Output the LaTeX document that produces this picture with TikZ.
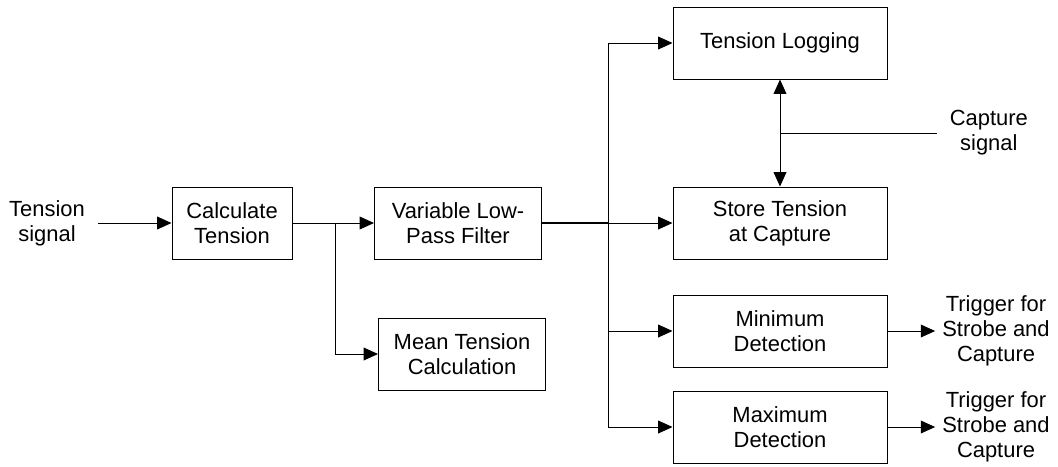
\documentclass[tikz,border=0pt]{standalone}
\usepackage{fontspec}
\setmainfont{Liberation Sans}
\usetikzlibrary{arrows.meta}

\begin{document}
\begin{tikzpicture}[->,>={Triangle[length=0.36cm,width=0.32cm]},line width=0.7pt,
  block/.style={draw,rectangle,align=center,minimum height=1.8cm,font=\fontsize{15.6}{17.8}\selectfont},
  wide block/.style={block,minimum width=5.35cm},
  label text/.style={align=center,font=\fontsize{15.6}{17.8}\selectfont}]

            \useasboundingbox (0,0) rectangle (26.45,-11.65);

            \node[block,minimum width=3cm] (calc) at (5.8,-5.575) {Calculate\\Tension};
            \node[block,minimum width=4.175cm] (filter) [right of = calc, node distance=5.65cm] {Variable Low-\\Pass Filter};
            \node[block,minimum width=4.175cm] (mean) [below of = filter, node distance=3.275cm, xshift=0.1cm] {Mean Tension\\Calculation};
            \node[wide block] (store) [right of = filter, node distance=8.05cm] {Store Tension\\at Capture};
            \node[wide block] (log) [above of = store, node distance=4.5cm] {Tension Logging};
            \node[wide block] (min) [below of = store, node distance=2.7cm] {Minimum\\Detection};
            \node[wide block] (max) [below of = min, node distance=2.4cm] {Maximum\\Detection};

            \node[label text] (sig) [left of = calc, node distance=4.625cm] {Tension\\signal};
            \node[label text] (capsig) at (24.72,-3.325) {Capture\\signal};
            \node[label text] (trig1) [right of = min, node distance=5.4cm] {Trigger for\\Strobe and\\Capture};
            \node[label text] (trig2) [right of = max, node distance=5.4cm] {Trigger for\\Strobe and\\Capture};

            \coordinate (b1) at (8.375,-5.575);
            \coordinate (b2) at (15.2,-5.575);

            \draw[shorten <=0.2cm] (sig) -- (calc);
            \draw[-] (calc) -- (b1);
            \draw (b1) -- (filter);
            \draw (b1) |- (mean);
            \draw[-,line width=1.4pt] (filter) -- (b2);
            \draw (b2) |- (log);
            \draw (b2) -- (store);
            \draw (b2) |- (min);
            \draw (b2) |- (max);
            \draw[<->] (log) -- (store);
            \draw[-,shorten <=0.2cm] (capsig) -- (capsig -| log);
            \draw[shorten >=0.05cm] (min) -- (trig1);
            \draw[shorten >=0.05cm] (max) -- (trig2);
        \end{tikzpicture}
\end{document}
